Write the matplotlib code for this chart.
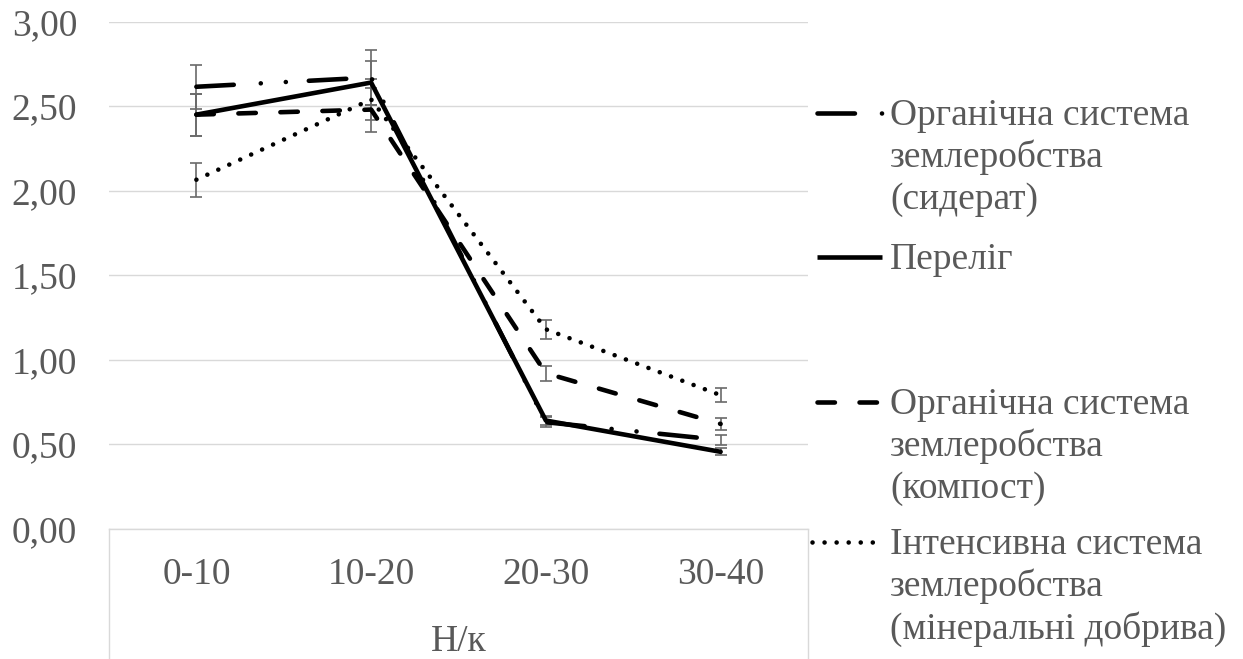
import matplotlib
matplotlib.use('Agg')
import matplotlib.pyplot as plt
from matplotlib.lines import Line2D
from matplotlib.ticker import FuncFormatter

# ---------------- data ----------------
categories = ['0-10', '10-20', '20-30', '30-40']
axis_title = 'Н/к'
yticks = [0.0, 0.5, 1.0, 1.5, 2.0, 2.5, 3.0]

names = ['Органічна система\nземлеробства\n(сидерат)',
         'Переліг',
         'Органічна система\nземлеробства\n(компост)',
         'Інтенсивна система\nземлеробства\n(мінеральні добрива)']

siderat = [2.615, 2.67, 0.63, 0.525]
siderat_err = [0.13, 0.16, 0.03, 0.03]
perelig = [2.45, 2.64, 0.64, 0.455]
perelig_err = [0.125, 0.13, 0.025, 0.02]
kompost = [2.45, 2.48, 0.92, 0.62]
kompost_err = [0.125, 0.13, 0.045, 0.035]
intensive = [2.065, 2.54, 1.18, 0.79]
intensive_err = [0.10, 0.12, 0.055, 0.04]

# ---------------- style ----------------
plt.rcParams['font.family'] = ['Liberation Serif', 'DejaVu Serif']
W, H = 1243, 659
FS = 27
TXT = '#595959'
GRID = '#d9d9d9'
LW = 3.3
ERR = '#6a6a6a'

styles = [
    (0, (8.17, 5.9, 0.01, 5.46, 0.01, 5.02)),   # long dash dot dot
    '-',                                       # solid
    (0, (3.8, 5.37)),                          # dash
    (0, (0.01, 2.62)),                         # round dot
]
series = [siderat, perelig, kompost, intensive]
errors = [siderat_err, perelig_err, kompost_err, intensive_err]

fig = plt.figure(figsize=(W / 100, H / 100), dpi=100)
ax = fig.add_axes([109 / W, 1 - 528.7 / H, 699 / W, 507 / H])

x = list(range(len(categories)))
for vals, errs in zip(series, errors):
    ax.errorbar(x, vals, yerr=errs, fmt='none', ecolor=ERR, elinewidth=1.2,
                capsize=4, capthick=1.2, zorder=2)
for vals, ls in zip(series, styles):
    ax.plot(x, vals, color='black', lw=LW, linestyle=ls,
            dash_capstyle='round', solid_capstyle='round',
            solid_joinstyle='round', zorder=3)

ax.set_xlim(-0.5, len(categories) - 0.5)
ax.set_ylim(0, 3)
ax.set_yticks(yticks)
ax.yaxis.set_major_formatter(FuncFormatter(lambda v, p: f'{v:.2f}'.replace('.', ',')))
ax.set_xticks(x)
ax.set_xticklabels(categories)
ax.grid(axis='y', color=GRID, lw=1.0, zorder=0)
ax.set_axisbelow(True)
for s in ['left', 'right', 'top']:
    ax.spines[s].set_visible(False)
ax.spines['bottom'].set_color(GRID)
ax.spines['bottom'].set_linewidth(1.0)
ax.tick_params(axis='both', length=0, labelsize=FS, labelcolor=TXT)
ax.tick_params(axis='y', pad=23)
ax.tick_params(axis='x', pad=20.5)
ax.set_xlabel(axis_title, fontsize=FS, color=TXT, labelpad=23.5)

# category box lines below the axis
for xa in (0, 1):
    ax.plot([xa, xa], [0, -0.4], transform=ax.transAxes, color=GRID, lw=1.0,
            clip_on=False, zorder=1)

# ---------------- legend (manual, handle aligned with first line) ----------------
def fx(px):
    return px / W

def fy(py):
    return 1 - py / H

legend_rows = [113, 257, 402, 542]
for name, ls, yrow in zip(names, styles, legend_rows):
    x0, x1 = (817, 882) if ls != styles[3] else (812, 882)
    fig.add_artist(Line2D([fx(x0), fx(x1)], [fy(yrow), fy(yrow)],
                          transform=fig.transFigure, color='black', lw=LW,
                          linestyle=ls, dash_capstyle='round',
                          solid_capstyle='butt'))
    fig.text(fx(890), fy(yrow - 14.5), name, fontsize=FS, color=TXT,
             ha='left', va='top', linespacing=1.25)

fig.savefig('out.png', dpi=100)
